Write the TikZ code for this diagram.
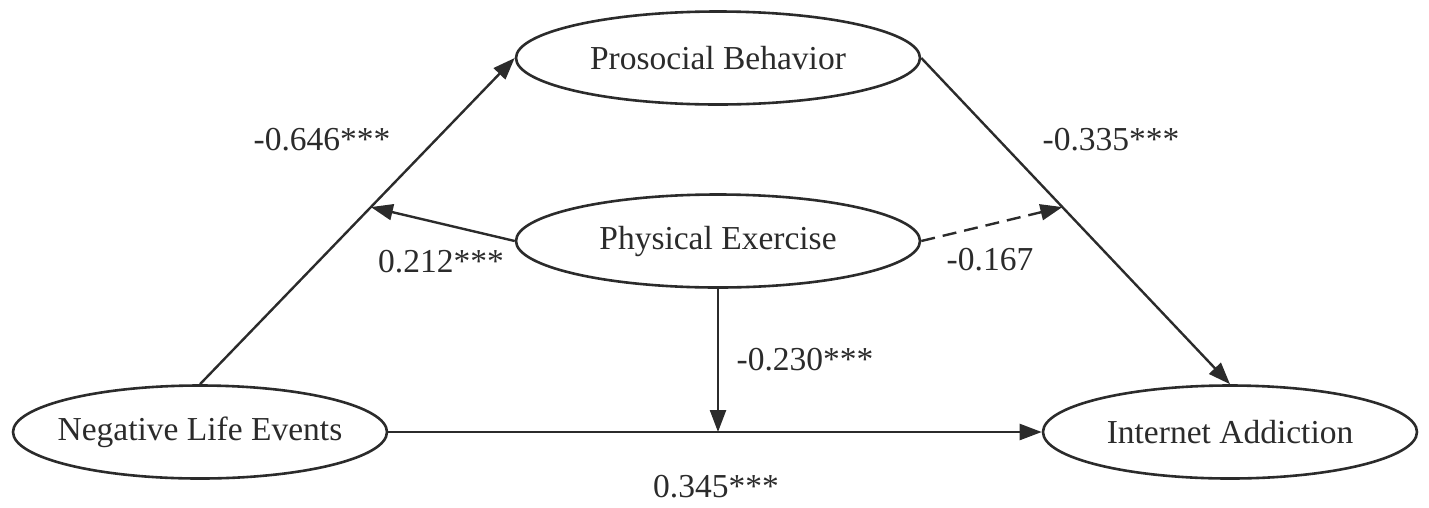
\documentclass[tikz,border=0pt]{standalone}
\usepackage{fontspec}
\setmainfont{Liberation Serif}
\usetikzlibrary{arrows.meta,calc,shapes.geometric}
\definecolor{ink}{HTML}{2B2B2B}
\newcommand{\zw}[1]{\makebox[0pt]{#1}}
\begin{document}
\begin{tikzpicture}[x=1pt,y=-1pt,
  var/.style={ellipse,draw=ink,line width=2.6pt,inner sep=0pt,text=ink,
    font=\fontsize{33.5}{40}\selectfont},
  lab/.style={inner sep=0pt,text=ink,font=\fontsize{33.5}{40}\selectfont},
  conn/.style={draw=ink,line width=2.4pt,-{Triangle[length=22pt,width=16pt]}},
  dsh/.style={conn,dash pattern=on 14pt off 8pt}]
\useasboundingbox (0,0) rectangle (1429,507);
\node[var,minimum width=374pt,minimum height=93pt] (nle) at (200,432) {\zw{Negative Life Events}};
\node[var,minimum width=404pt,minimum height=93pt] (pb) at (718,58) {\zw{Prosocial Behavior}};
\node[var,minimum width=404pt,minimum height=93pt] (pe) at (718,241) {\zw{Physical Exercise}};
\node[var,minimum width=374pt,minimum height=93pt] (ia) at (1230,432) {\zw{Internet Addiction}};
\coordinate (m1) at ($(nle.north)!0.543!(pb.west)$);
\coordinate (m2) at ($(ia.north)!0.543!(pb.east)$);
\coordinate (m3) at (pe.south |- nle.east);
\draw[conn] (nle.north) -- (pb.west);
\draw[conn] (pb.east) -- (ia.north);
\draw[conn] (nle.east) -- (ia.west);
\draw[conn] (pe.west) -- (m1);
\draw[dsh] (pe.east) -- (m2);
\draw[conn] (pe.south) -- (m3);
\node[lab] (l1) at (322,140) {-0.646***};
\node[lab] (l2) at (441,262) {0.212***};
\node[lab] (l3) at (1111,140) {-0.335***};
\node[lab] (l4) at (990,260) {-0.167};
\node[lab] (l5) at (805,360) {-0.230***};
\node[lab] (l6) at (716,487) {0.345***};
\end{tikzpicture}
\end{document}
